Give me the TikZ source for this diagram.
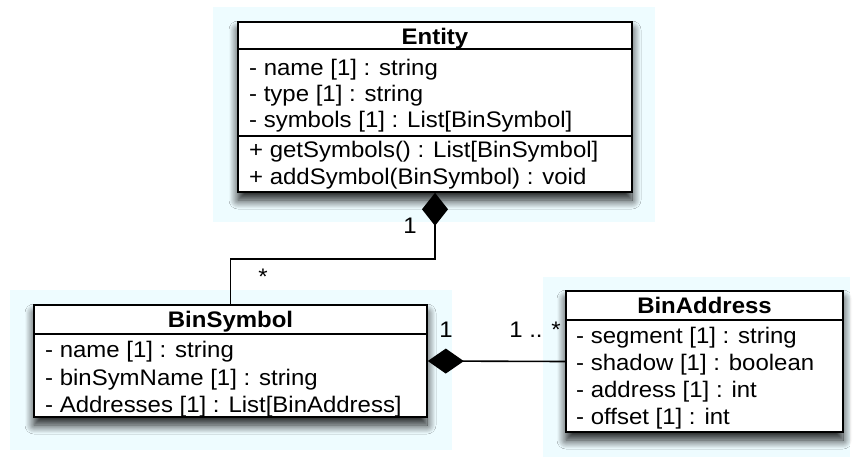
\documentclass[tikz,border=0pt]{standalone}
\usepackage{fontspec}
\setmainfont{Liberation Sans}[FakeStretch=1.065]
\usetikzlibrary{arrows.meta,shadows.blur}
\definecolor{bgcyan}{RGB}{238,252,255}
\newcommand{\rowfont}{\fontsize{22.5}{26}\selectfont}
\begin{document}
\begin{tikzpicture}[x=1pt,y=-1pt,
  bgrect/.style={fill=bgcyan, draw=none},
  classbox/.style={draw=black, line width=1.6pt, fill=white,
    blur shadow={shadow xshift=0pt, shadow yshift=-8pt, shadow blur radius=9pt, shadow opacity=90, shadow blur steps=14}},
  divider/.style={draw=black, line width=1.3pt},
  txt/.style={anchor=base west, inner sep=0pt, font=\rowfont},
  ttl/.style={anchor=base, inner sep=0pt, font=\rowfont\bfseries},
  lbl/.style={anchor=base, inner sep=0pt, font=\rowfont},
  conn/.style={draw=black, line width=1.6pt},
  compA/.style={conn, {Diamond[length=33pt,width=26pt]}-},
  compB/.style={conn, {Diamond[length=36pt,width=25pt]}-}
]
\useasboundingbox (0,0) rectangle (853,458);
% backgrounds
\path[bgrect] (213,7) rectangle (655,222);
\path[bgrect] (10,290) rectangle (452,450);
\path[bgrect] (543,277) rectangle (850,457);

% Entity
\node[classbox, minimum width=394pt, minimum height=170pt, inner sep=0pt] (entity) at (435,107) {};
\draw[divider] (238,49) -- (632,49);
\draw[divider] (238,136) -- (632,136);
\node[ttl] (entityT) at (435,44) {Entity};
\node[txt] (e1) at (249,75) {- name [1] : string};
\node[txt] (e2) at (249,101) {- type [1] : string};
\node[txt] (e3) at (249,127) {- symbols [1] : List[BinSymbol]};
\node[txt] (e4) at (249,157) {+ getSymbols() : List[BinSymbol]};
\node[txt] (e5) at (249,184) {+ addSymbol(BinSymbol) : void};

% BinSymbol
\node[classbox, minimum width=393pt, minimum height=112pt, inner sep=0pt] (binsym) at (230.5,361) {};
\draw[divider] (34,334) -- (427,334);
\node[ttl] (binsymT) at (230.5,327) {BinSymbol};
\node[txt] (b1) at (45,357) {- name [1] : string};
\node[txt] (b2) at (45,385) {- binSymName [1] : string};
\node[txt] (b3) at (45,412) {- Addresses [1] : List[BinAddress]};

% BinAddress
\node[classbox, minimum width=277pt, minimum height=141pt, inner sep=0pt] (binaddr) at (704.5,361.5) {};
\draw[divider] (566,320) -- (843,320);
\node[ttl] (binaddrT) at (704.5,313) {BinAddress};
\node[txt] (a1) at (576,343) {- segment [1] : string};
\node[txt] (a2) at (576,370) {- shadow [1] : boolean};
\node[txt] (a3) at (576,397) {- address [1] : int};
\node[txt] (a4) at (576,424) {- offset [1] : int};

% connectors
\draw[compA] (entity.south) -- ++(0,66) -| (binsym.north);
\draw[compB] (binsym.east) -- (binaddr.west);

% labels
\node[lbl] (l1) at (410,233) {1};
\node[lbl] (l2) at (263,284) {*};
\node[lbl] (l3) at (446,337) {1};
\node[lbl, anchor=base east] (l4) at (561,337) {1 .. *};
\end{tikzpicture}
\end{document}
